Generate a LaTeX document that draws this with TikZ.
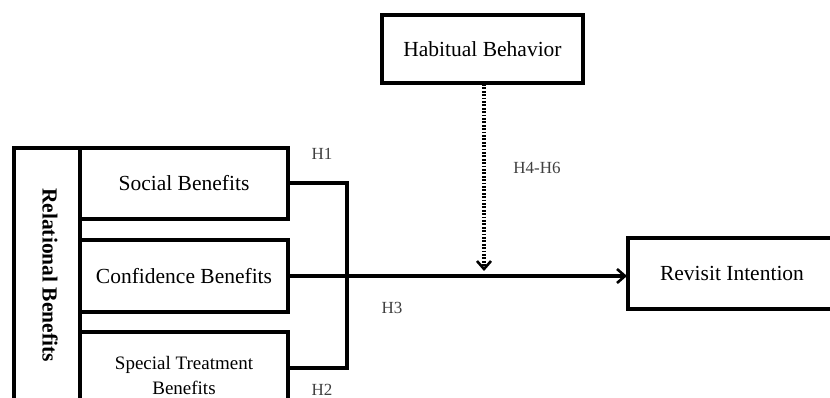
\documentclass[tikz,border=0pt]{standalone}
\usepackage{fontspec}
\setmainfont{Liberation Serif}
\usetikzlibrary{arrows.meta}
\begin{document}
\begin{tikzpicture}[x=1pt,y=-1pt,
  box/.style={draw, line width=3.2pt, inner sep=0pt, font=\fontsize{21.5}{25}\selectfont, align=center},
  conn/.style={line width=3.2pt},
  hlab/.style={font=\fontsize{17}{19}\selectfont, text=black!75},
  arr/.style={-{Straight Barb[length=8pt,width=14pt,line width=2.6pt]}}
]
\useasboundingbox (0,0) rectangle (830,398);
\clip (0,0) rectangle (830,398);
\fill[white] (0,0) rectangle (830,398);

% outer relational box
\node[box, minimum width=66pt, minimum height=302pt] (outer) at (47,299) {};
\node[font=\fontsize{21.5}{25}\selectfont\bfseries, rotate=-90] (rel) at (50,275) {Relational Benefits};

\node[box, minimum width=208pt, minimum height=71pt] (social) at (184,183.5) {Social Benefits};
\node[box, minimum width=208pt, minimum height=72pt] (conf) at (184,276) {Confidence Benefits};
\node[box, minimum width=208pt, minimum height=118pt] (spbox) at (184,391) {};
\node[font=\fontsize{19}{25}\selectfont, align=center] (special) at (184,375) {Special Treatment\\Benefits};

\node[box, minimum width=201pt, minimum height=68pt] (habit) at (482.5,49) {Habitual Behavior};
\node[box, minimum width=208pt, minimum height=71pt] (revisit) at (732,273.5) {Revisit Intention};

\coordinate (s1) at (290,183);
\coordinate (j) at (347,183);
\coordinate (j2) at (347,368);
\coordinate (s2) at (290,368);
\coordinate (c1) at (290,276);
\coordinate (r1) at (627,276);
\coordinate (h1) at (484,84);
\coordinate (h2) at (484,271);

\draw[conn] (s1) -- (j) -- (j2) -- (s2);
\draw[conn, arr] (c1) -- (r1);
\draw[line width=3.2pt, dash pattern=on 1.8pt off 1.6pt, arr] (h1) -- (h2);

\node[hlab] (lh1) at (322,154) {H1};
\node[hlab] (lh3) at (392,308) {H3};
\node[hlab] (lh2) at (322,390) {H2};
\node[hlab] (lh4) at (537,168) {H4-H6};
\end{tikzpicture}
\end{document}
